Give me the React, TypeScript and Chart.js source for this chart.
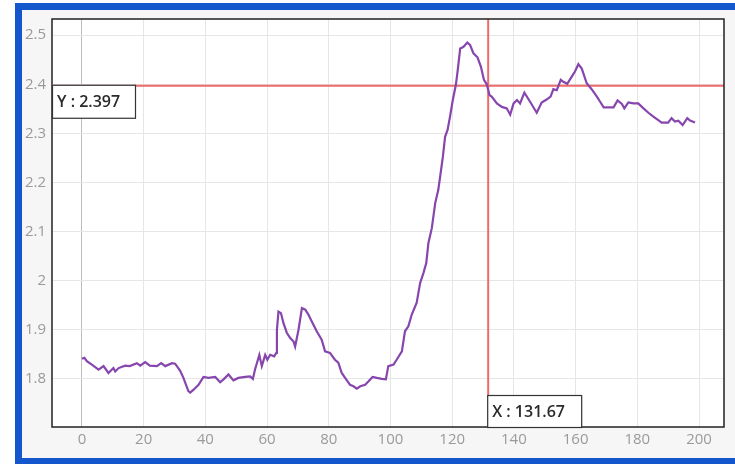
import React, { useEffect, useRef } from "react";
import { Chart, registerables } from "chart.js";

Chart.register(...registerables);

const xValues = [
  0, 0.8, 1.6, 3.2, 5.4, 7, 8.6, 10.2, 10.8, 11.9, 14, 15.5, 17.8, 18.9, 20.5, 22, 24.3, 25.7, 27, 29.2,
  30.2, 31.8, 32.9, 34.5, 35.1, 36.2, 37.8, 39.4, 41, 43.2, 44.8, 45.9, 47.5, 49.1, 50.7, 52.9, 54.5, 55.4,
  56.1, 57.5, 58.3, 59.4, 60.1, 61, 62.3, 63, 63.2, 63.7, 64.5, 65.3, 66.4, 67.5, 68.6, 69.1, 70.2, 71.3,
  72.4, 73.4, 74.5, 76.1, 77.7, 78.8, 80.4, 82, 83.1, 84.2, 85.3, 86.9, 88, 89.1, 90.2, 91.8, 92.9, 94.2,
  95.6, 97.2, 98.5, 99.3, 101, 102, 103.7, 104.7, 105.8, 106.9, 108.5, 109.6, 110.7, 111.6, 112.3, 113.4,
  114.5, 115.5, 116.1, 117, 117.7, 118.5, 119.3, 120.2, 121.2, 121.8, 122.6, 123.6, 124.9, 125.8, 126.9,
  128.2, 129.3, 130.3, 131.2, 132.1, 132.8, 134.5, 136.1, 137.7, 138.8, 139.9, 141, 142, 143.4, 145.2,
  147.4, 149, 150.6, 151.9, 152.8, 153.9, 155.2, 156, 157.3, 158.7, 159.8, 160.9, 162, 163.6, 165.2,
  166.9, 167.9, 169.1, 172.3, 173.6, 175, 175.8, 177.1, 178.7, 180.3, 182, 183.6, 185.2, 186.8, 187.9,
  190, 191.1, 192.2, 193.3, 194.7, 196.2, 197.1, 198.7,
];

const yValues = [
  1.841, 1.843, 1.836, 1.829, 1.819, 1.826, 1.812, 1.822, 1.815, 1.822, 1.827, 1.826, 1.832, 1.827, 1.834,
  1.827, 1.826, 1.832, 1.826, 1.832, 1.831, 1.817, 1.802, 1.775, 1.772, 1.778, 1.788, 1.804, 1.802, 1.804,
  1.793, 1.799, 1.809, 1.797, 1.802, 1.804, 1.805, 1.8, 1.819, 1.849, 1.826, 1.849, 1.839, 1.849, 1.846,
  1.853, 1.9, 1.937, 1.934, 1.914, 1.894, 1.883, 1.876, 1.866, 1.9, 1.944, 1.941, 1.931, 1.917, 1.897,
  1.88, 1.856, 1.853, 1.839, 1.833, 1.812, 1.802, 1.788, 1.785, 1.78, 1.785, 1.788, 1.795, 1.804, 1.802,
  1.8, 1.799, 1.826, 1.829, 1.839, 1.856, 1.897, 1.907, 1.931, 1.955, 1.995, 2.016, 2.036, 2.077, 2.107,
  2.158, 2.185, 2.212, 2.253, 2.293, 2.307, 2.334, 2.368, 2.399, 2.429, 2.473, 2.476, 2.485, 2.48, 2.463,
  2.455, 2.436, 2.409, 2.4, 2.378, 2.375, 2.361, 2.354, 2.351, 2.338, 2.361, 2.368, 2.361, 2.383, 2.365,
  2.342, 2.363, 2.369, 2.375, 2.39, 2.388, 2.409, 2.405, 2.401, 2.415, 2.426, 2.441, 2.432, 2.402, 2.39,
  2.375, 2.365, 2.353, 2.353, 2.367, 2.36, 2.351, 2.363, 2.361, 2.361, 2.351, 2.342, 2.334, 2.327, 2.322,
  2.322, 2.331, 2.324, 2.326, 2.317, 2.331, 2.326, 2.322,
];

const crossX = 131.67;
const crossY = 2.397;

const xRange = [-9.7, 208.1];
const yRange = [1.702, 2.533];
const xStep = 20;
const yStep = 0.1;

const FONT = "'Open Sans', 'Noto Sans', sans-serif";

const framePlugin = {
  id: "frame",
  beforeDraw(chart: any) {
    const { ctx, chartArea: a, width, height } = chart;
    ctx.save();
    ctx.fillStyle = "#ffffff";
    ctx.fillRect(0, 0, width, height);
    ctx.fillStyle = "#f6f6f6";
    ctx.fillRect(22, 10, width - 22, 448);
    ctx.fillStyle = "#ffffff";
    ctx.fillRect(a.left, a.top, a.right - a.left, a.bottom - a.top);
    ctx.restore();
  },
  beforeDatasetsDraw(chart: any) {
    const { ctx, chartArea: a, scales } = chart;
    const xp = scales.x.getPixelForValue(crossX);
    const yp = scales.y.getPixelForValue(crossY);
    ctx.save();
    ctx.strokeStyle = "#ef6a6a";
    ctx.lineWidth = 2;
    ctx.beginPath();
    ctx.moveTo(a.left, yp);
    ctx.lineTo(a.right, yp);
    ctx.moveTo(xp, a.top);
    ctx.lineTo(xp, a.bottom);
    ctx.stroke();
    ctx.restore();
  },
  afterDatasetsDraw(chart: any) {
    const { ctx, chartArea: a, scales } = chart;
    const xp = scales.x.getPixelForValue(crossX);
    const yp = scales.y.getPixelForValue(crossY);
    ctx.save();
    ctx.strokeStyle = "#222222";
    ctx.lineWidth = 1.5;
    ctx.strokeRect(a.left, a.top, a.right - a.left, a.bottom - a.top);

    ctx.font = `600 16px ${FONT}`;
    ctx.textBaseline = "middle";
    ctx.textAlign = "left";
    ctx.lineWidth = 1.2;
    ctx.strokeStyle = "#333333";

    // Y box
    const yTxt = `Y : ${crossY}`;
    const yBox = { l: a.left, t: yp - 1, w: 83, h: 33 };
    ctx.fillStyle = "#ffffff";
    ctx.fillRect(yBox.l, yBox.t, yBox.w, yBox.h);
    ctx.strokeRect(yBox.l + 0.5, yBox.t + 0.5, yBox.w, yBox.h);
    ctx.fillStyle = "#2a2a2a";
    ctx.fillText(yTxt, yBox.l + 5, yBox.t + yBox.h / 2 + 1);

    // X box
    const xTxt = `X : ${crossX}`;
    const xBox = { l: xp - 1, t: a.bottom - 32, w: 94, h: 32 };
    ctx.fillStyle = "#ffffff";
    ctx.fillRect(xBox.l, xBox.t, xBox.w, xBox.h);
    ctx.strokeRect(xBox.l + 0.5, xBox.t + 0.5, xBox.w, xBox.h);
    ctx.fillStyle = "#2a2a2a";
    ctx.fillText(xTxt, xBox.l + 5, xBox.t + xBox.h / 2 + 1);
    ctx.restore();
  },
  afterDraw(chart: any) {
    const { ctx, width, height } = chart;
    ctx.save();
    ctx.fillStyle = "#1456cc";
    ctx.fillRect(15, 3, width - 15, 7);
    ctx.fillRect(15, 3, 7, height - 3);
    ctx.fillRect(15, 458, width - 15, height - 458);
    ctx.restore();
  },
};

export default function App() {
  const ref = useRef<HTMLCanvasElement | null>(null);

  useEffect(() => {
    if (!ref.current) return;
    const points = xValues.map((x, i) => ({ x, y: yValues[i] }));
    const fmt = (v: number) => String(Number(Number(v).toFixed(2)));
    const chart = new Chart(ref.current, {
      type: "scatter",
      data: {
        datasets: [
          {
            data: points,
            showLine: true,
            borderColor: "#8646ad",
            backgroundColor: "#8646ad",
            borderWidth: 2.2,
            pointRadius: 0,
            pointHoverRadius: 0,
            tension: 0,
          },
        ],
      },
      options: {
        animation: false,
        responsive: false,
        maintainAspectRatio: false,
        events: [],
        layout: { padding: { left: 0, right: 11, top: 19, bottom: 0 } },
        plugins: { legend: { display: false }, tooltip: { enabled: false } },
        scales: {
          x: {
            type: "linear",
            min: xRange[0],
            max: xRange[1],
            afterFit: (s: any) => {
              s.height = 37;
            },
            border: { display: false },
            grid: {
              drawTicks: false,
              color: (c: any) => (c.tick && c.tick.value === 0 ? "#bdbdbd" : "#e6e6e6"),
              lineWidth: 1,
            },
            ticks: {
              stepSize: xStep,
              includeBounds: false,
              padding: 4,
              color: "#9a9a9a",
              font: { family: FONT, size: 15 },
              callback: (v: any) => fmt(v),
              maxRotation: 0,
            },
          },
          y: {
            type: "linear",
            min: yRange[0],
            max: yRange[1],
            afterFit: (s: any) => {
              s.width = 52;
            },
            border: { display: false },
            grid: { drawTicks: false, color: "#e6e6e6", lineWidth: 1 },
            ticks: {
              stepSize: yStep,
              includeBounds: false,
              padding: 6,
              color: "#9a9a9a",
              font: { family: FONT, size: 15 },
              callback: (v: any) => fmt(v),
            },
          },
        },
      },
      plugins: [framePlugin],
    });
    return () => chart.destroy();
  }, []);

  return (
    <div style={{ position: "absolute", left: 0, top: 0, width: 735, height: 464 }}>
      <canvas ref={ref} width={735} height={464} style={{ display: "block" }} />
    </div>
  );
}
